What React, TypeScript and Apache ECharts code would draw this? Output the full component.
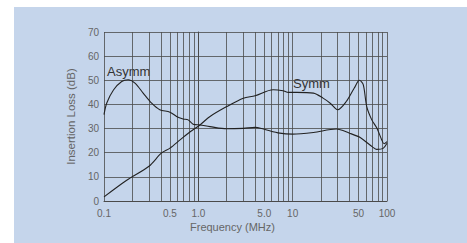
import React, { useEffect, useRef } from "react";
import * as echarts from "echarts";

// Frequency axis tick labels (MHz)
const xTickValues = [0.1, 0.5, 1, 5, 10, 50, 100];
const xTickLabels = ["0.1", "0.5", "1.0", "5.0", "10", "50", "100"];
// Log grid line frequencies
const gridFreqs = [
  0.1, 0.2, 0.3, 0.4, 0.5, 0.6, 0.7, 0.8, 0.9,
  1, 2, 3, 4, 5, 6, 7, 8, 9,
  10, 20, 30, 40, 50, 60, 70, 80, 90, 100,
];

// Asymmetric insertion loss
const asymmFreq = [
  0.1, 0.107, 0.126, 0.154, 0.18, 0.213, 0.26, 0.32, 0.39, 0.5, 0.61, 0.69,
  0.78, 0.88, 1.04, 1.33, 2.0, 3.0, 4.0, 4.9, 7.3, 10, 16.6, 29, 40, 52, 66,
  78, 91, 100,
];
const asymmLoss = [
  35.8, 40.6, 46, 49.5, 50.2, 48.8, 44.7, 40.5, 37.8, 36.8, 34.7, 34.0, 33.6,
  31.8, 31.5, 30.8, 29.9, 30.1, 30.5, 29.8, 28.1, 27.7, 28.4, 29.8, 28.1,
  26.3, 23.2, 21.4, 21.8, 23.9,
];

// Symmetric insertion loss
const symmFreq = [
  0.1, 0.174, 0.3, 0.405, 0.5, 0.64, 0.82, 1.04, 1.33, 2.0, 3.0, 4.0, 6.2,
  7.9, 9, 11, 16.6, 21, 25, 30, 37, 45, 51, 56, 61, 69, 78, 88, 93, 100,
];
const symmLoss = [
  1.7, 8.6, 14.4, 19.8, 21.9, 25.3, 28.7, 31.5, 35, 39.1, 42.6, 43.6, 46.1,
  45.7, 45, 45, 44.7, 42.6, 40.5, 37.8, 41.2, 46.8, 50, 48.2, 39.1, 33.6,
  30.2, 25.3, 23.7, 24.6,
];

const lg = (v: number) => Math.log10(v);

export default function App() {
  const ref = useRef<HTMLDivElement>(null);
  useEffect(() => {
    if (!ref.current) return;
    const chart = echarts.init(ref.current, undefined, { renderer: "svg" });
    const font = "Liberation Sans";
    const gridColor = "#4a4a4a";
    chart.setOption({
      animation: false,
      backgroundColor: "transparent",
      grid: { left: 104, top: 32, width: 283, height: 169, containLabel: false },
      xAxis: {
        type: "value",
        min: -1,
        max: 2,
        axisLine: { show: true, lineStyle: { color: gridColor, width: 1 } },
        axisTick: { show: false, customValues: gridFreqs.map(lg) },
        splitLine: { show: true, lineStyle: { color: gridColor, width: 0.8 } },
        axisLabel: {
          customValues: xTickValues.map(lg),
          color: "#666",
          fontFamily: font,
          fontSize: 10,
          margin: 7,
          formatter: (v: number) => {
            let best = 0;
            let d = Infinity;
            xTickValues.forEach((t, i) => {
              const dd = Math.abs(lg(t) - v);
              if (dd < d) { d = dd; best = i; }
            });
            return xTickLabels[best];
          },
        },
      },
      yAxis: {
        type: "value",
        min: 0,
        max: 70,
        interval: 10,
        name: "Insertion Loss (dB)",
        nameLocation: "middle",
        nameGap: 22,
        nameTextStyle: { color: "#666", fontFamily: font, fontSize: 11.5 },
        axisLine: { show: true, lineStyle: { color: gridColor, width: 1 } },
        axisTick: { show: false },
        splitLine: { show: true, lineStyle: { color: gridColor, width: 0.8 } },
        axisLabel: { color: "#666", fontFamily: font, fontSize: 10, margin: 5 },
      },
      graphic: [
        {
          type: "text",
          left: 190,
          top: 221,
          style: { text: "Frequency (MHz)", fill: "#666", font: `11px "${font}"` },
        },
        {
          type: "text",
          left: 107,
          top: 65,
          style: { text: "Asymm", fill: "#333", font: `13px "${font}"` },
        },
        {
          type: "text",
          left: 293,
          top: 77,
          style: { text: "Symm", fill: "#333", font: `13px "${font}"` },
        },
      ],
      series: [
        {
          name: "Asymm",
          type: "line",
          smooth: 0.3,
          showSymbol: false,
          data: asymmFreq.map((f, i) => [lg(f), asymmLoss[i]]),
          lineStyle: { color: "#222", width: 1.1 },
        },
        {
          name: "Symm",
          type: "line",
          smooth: 0.3,
          showSymbol: false,
          data: symmFreq.map((f, i) => [lg(f), symmLoss[i]]),
          lineStyle: { color: "#222", width: 1.1 },
        },
      ],
    });
    return () => chart.dispose();
  }, []);
  return (
    <div style={{ position: "fixed", left: 0, top: 0, width: 467, height: 243, background: "#fff" }}>
      <div style={{ position: "absolute", left: 14, top: 7, width: 453, height: 236, background: "#c5d5eb" }} />
      <div ref={ref} style={{ position: "absolute", left: 0, top: 0, width: 467, height: 243 }} />
    </div>
  );
}
